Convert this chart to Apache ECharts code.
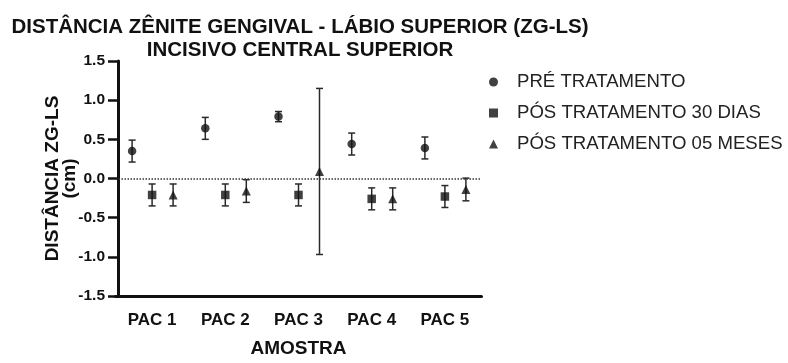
<!DOCTYPE html>
<html>
<head>
<meta charset="utf-8">
<script src="https://cdn.jsdelivr.net/npm/echarts@6/dist/echarts.min.js"></script>
<style>html,body{margin:0;padding:0;background:#fff}#c{width:788px;height:363px}</style>
</head>
<body>
<div id="c"></div>
<script>
const categories = ['PAC 1', 'PAC 2', 'PAC 3', 'PAC 4', 'PAC 5'];
const seriesNames = ['PRÉ TRATAMENTO', 'PÓS TRATAMENTO 30 DIAS', 'PÓS TRATAMENTO 05 MESES'];
const preMean = [0.35, 0.64, 0.79, 0.44, 0.39];
const preErr = [0.14, 0.14, 0.065, 0.14, 0.14];
const pos30Mean = [-0.21, -0.21, -0.21, -0.26, -0.23];
const pos30Err = [0.14, 0.14, 0.14, 0.14, 0.14];
const pos5Mean = [-0.21, -0.16, 0.09, -0.26, -0.14];
const pos5Err = [0.14, 0.145, 1.06, 0.14, 0.145];
const yTicks = [-1.5, -1.0, -0.5, 0.0, 0.5, 1.0, 1.5];

const FONT = "'Liberation Sans', Arial, sans-serif";
const INK = '#111';
const groups = [
  { name: seriesNames[0], mean: preMean, err: preErr, symbol: 'circle', size: 8.5, off: -20 },
  { name: seriesNames[1], mean: pos30Mean, err: pos30Err, symbol: 'rect', size: 8.5, off: 0 },
  { name: seriesNames[2], mean: pos5Mean, err: pos5Err, symbol: 'triangle', size: 9, off: 21 }
];

const series = [];
groups.forEach((g, gi) => {
  series.push({
    name: g.name + ' err',
    type: 'custom',
    silent: true,
    z: 2,
    data: g.mean.map((m, i) => [i, m - g.err[i], m + g.err[i]]),
    renderItem: function (params, api) {
      const lo = api.coord([api.value(0), api.value(1)]);
      const hi = api.coord([api.value(0), api.value(2)]);
      const x = lo[0] + g.off;
      const cw = 3.5;
      const st = { stroke: '#2a2a2a', lineWidth: 1.5, fill: null };
      return {
        type: 'group',
        children: [
          { type: 'line', shape: { x1: x, y1: lo[1], x2: x, y2: hi[1] }, style: st },
          { type: 'line', shape: { x1: x - cw, y1: lo[1], x2: x + cw, y2: lo[1] }, style: st },
          { type: 'line', shape: { x1: x - cw, y1: hi[1], x2: x + cw, y2: hi[1] }, style: st }
        ]
      };
    }
  });
  const s = {
    name: g.name,
    type: 'scatter',
    z: 3,
    symbol: g.symbol,
    symbolSize: g.size,
    symbolOffset: [g.off, 0],
    itemStyle: { color: INK },
    data: g.mean
  };
  if (gi === 0) {
    s.markLine = {
      silent: true,
      symbol: ['none', 'none'],
      label: { show: false },
      lineStyle: { type: 'dotted', color: '#333', width: 1.5 },
      data: [{ yAxis: 0 }]
    };
  }
  series.push(s);
});

const chart = echarts.init(document.getElementById('c'), null, { renderer: 'canvas' });
chart.setOption({
  animation: false,
  backgroundColor: '#fff',
  textStyle: { fontFamily: FONT },
  title: [
    { text: 'DISTÂNCIA ZÊNITE GENGIVAL - LÁBIO SUPERIOR (ZG-LS)', left: 295, top: 11, textAlign: 'center',
      textStyle: { fontFamily: FONT, fontSize: 20.5, fontWeight: 'bold', color: INK, lineHeight: 22 } },
    { text: 'INCISIVO CENTRAL SUPERIOR', left: 295, top: 34, textAlign: 'center',
      textStyle: { fontFamily: FONT, fontSize: 20.5, fontWeight: 'bold', color: INK, lineHeight: 22 } }
  ],
  legend: {
    orient: 'vertical',
    left: 484,
    top: 67,
    itemWidth: 9,
    itemHeight: 9,
    itemGap: 11,
    selectedMode: false,
    data: groups.map(g => ({ name: g.name, icon: g.symbol })),
    textStyle: { fontFamily: FONT, fontSize: 18.6, color: '#222', lineHeight: 20, padding: [0, 0, 0, 14] }
  },
  grid: { left: 115.5, top: 61, width: 366, bottom: 63, containLabel: false },
  xAxis: {
    type: 'category',
    data: categories,
    boundaryGap: true,
    name: 'AMOSTRA',
    nameLocation: 'middle',
    nameGap: 43,
    nameMoveOverlap: false,
    nameTextStyle: { fontFamily: FONT, fontSize: 19, fontWeight: 'bold', color: INK },
    axisLine: { onZero: false, lineStyle: { color: INK, width: 3 } },
    axisTick: { alignWithLabel: true, length: 10, lineStyle: { color: INK, width: 3 } },
    axisLabel: { fontFamily: FONT, fontSize: 17, fontWeight: 'bold', color: INK, margin: 16 },
    splitLine: { show: false }
  },
  yAxis: {
    type: 'value',
    min: yTicks[0],
    max: yTicks[yTicks.length - 1],
    interval: 0.5,
    offset: -2.5,
    name: 'DISTÂNCIA ZG-LS\n(cm)',
    nameLocation: 'middle',
    nameRotate: 90,
    nameGap: 40,
    nameMoveOverlap: false,
    nameTextStyle: { fontFamily: FONT, fontSize: 19, fontWeight: 'bold', color: INK, lineHeight: 17 },
    axisLine: { show: true, onZero: false, lineStyle: { color: INK, width: 3 } },
    axisTick: { show: true, length: 10, lineStyle: { color: INK, width: 2.5 } },
    axisLabel: { fontFamily: FONT, fontSize: 15.5, fontWeight: 'bold', color: INK, margin: 13,
      formatter: v => v.toFixed(1) },
    splitLine: { show: false }
  },
  series: series
});
</script>
</body>
</html>
